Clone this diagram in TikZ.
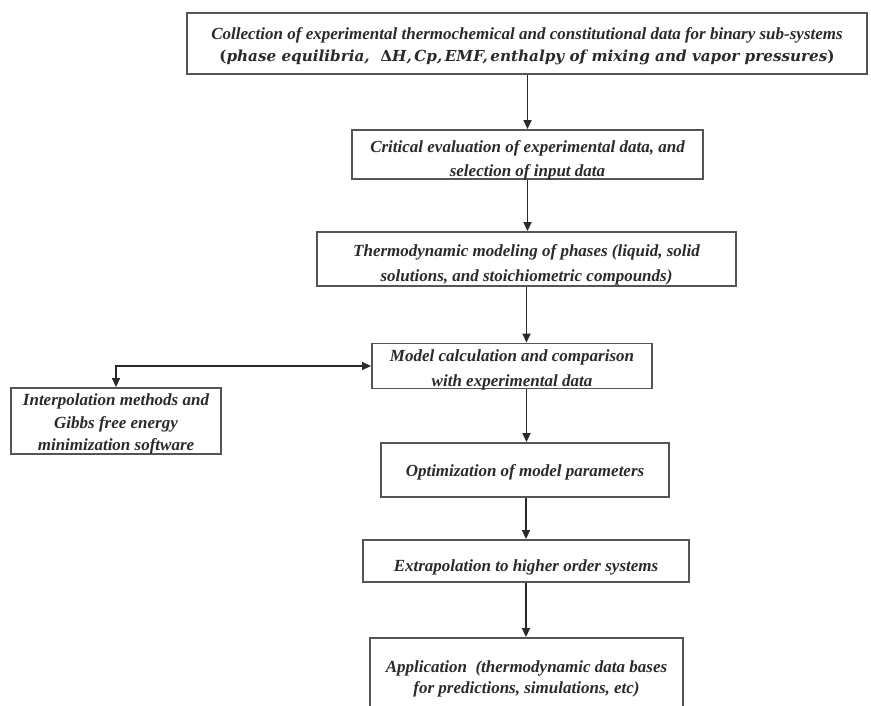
\documentclass[tikz,border=0pt]{standalone}
\usepackage{fontspec}
\setmainfont{Liberation Serif}
\newfontfamily\mathlike{DejaVu Serif}
\usetikzlibrary{arrows.meta}
\definecolor{ink}{HTML}{2A2A2A}
\definecolor{edge}{HTML}{555555}
\tikzset{
  box/.style={draw=edge, line width=1.9pt, inner sep=0pt},
  txt/.style={align=center, text=ink, inner sep=0pt,
    font=\fontsize{17}{24.5}\selectfont\bfseries\itshape},
  flow/.style={draw=ink, line width=1.7pt, -{Triangle[length=9pt,width=8pt]}},
  sideflow/.style={draw=ink, line width=1.6pt, {Triangle[length=9pt,width=8pt]}-{Triangle[length=9pt,width=8pt]}}
}
\begin{document}
\begin{tikzpicture}[x=1pt,y=-1pt]
\clip (0,0) rectangle (871,705);
\fill[white] (0,0) rectangle (871,705);

% boxes
\node[box, minimum width=680pt, minimum height=61pt] (b1) at (527,43.5) {};
\node[box, minimum width=351pt, minimum height=49pt] (b2) at (527.5,154.5) {};
\node[box, minimum width=419pt, minimum height=54pt] (b3) at (526.5,259) {};
\node[box, minimum width=280pt, minimum height=45pt] (b4) at (512,366) {};
\node[box, minimum width=210pt, minimum height=66pt] (L) at (116,421) {};
\node[box, minimum width=288pt, minimum height=54pt] (b5) at (525,470) {};
\node[box, minimum width=326pt, minimum height=42pt] (b6) at (526,561) {};
\node[box, minimum width=313pt, minimum height=76pt] (b7) at (526.5,676) {};

% texts
\node[txt, yshift=-2.5pt] (t1) at (b1.center)
  {Collection of experimental thermochemical and constitutional data for binary sub-systems\\[-3pt]
   {\mathlike\fontsize{15.2}{22}\selectfont\bfseries\itshape\textup{(}phase equilibria,\ \ \textup{Δ}H,\,Cp,\,EMF,\,enthalpy of mixing and vapor pressures\textup{)}}};
\node[txt, yshift=-6pt] (t2) at (b2.center)
  {Critical evaluation of experimental data, and\\selection of input data};
\node[txt, yshift=-6pt] (t3) at (b3.center)
  {Thermodynamic modeling of phases (liquid, solid\\solutions, and stoichiometric compounds)};
\node[txt, yshift=-4pt] (t4) at (b4.center)
  {Model calculation and comparison\\with experimental data};
\node[txt, yshift=-3pt] (tL) at (L.center)
  {Interpolation methods and\\[-2pt]Gibbs free energy\\[-2pt]minimization software};
\node[txt, yshift=-2pt] (t5) at (b5.center)
  {Optimization of model parameters};
\node[txt, yshift=-6.5pt] (t6) at (b6.center)
  {Extrapolation to higher order systems};
\node[txt, yshift=-3pt] (t7) at (b7.center)
  {Application\ \ (thermodynamic data bases\\[-4pt]for predictions, simulations, etc)};

% connectors
\draw[flow] (b1.south -| b2.north) -- (b2.north);
\draw[flow] (b2.south) -- (b2.south |- b3.north);
\draw[flow] (b3.south) -- (b3.south |- b4.north);
\draw[flow] (b3.south |- b4.south) -- (b3.south |- b5.north);
\draw[flow] (b6.north |- b5.south) -- (b6.north);
\draw[flow] (b6.south) -- (b6.south |- b7.north);
\draw[sideflow] (L.north) |- (b4.west);
\end{tikzpicture}
\end{document}
